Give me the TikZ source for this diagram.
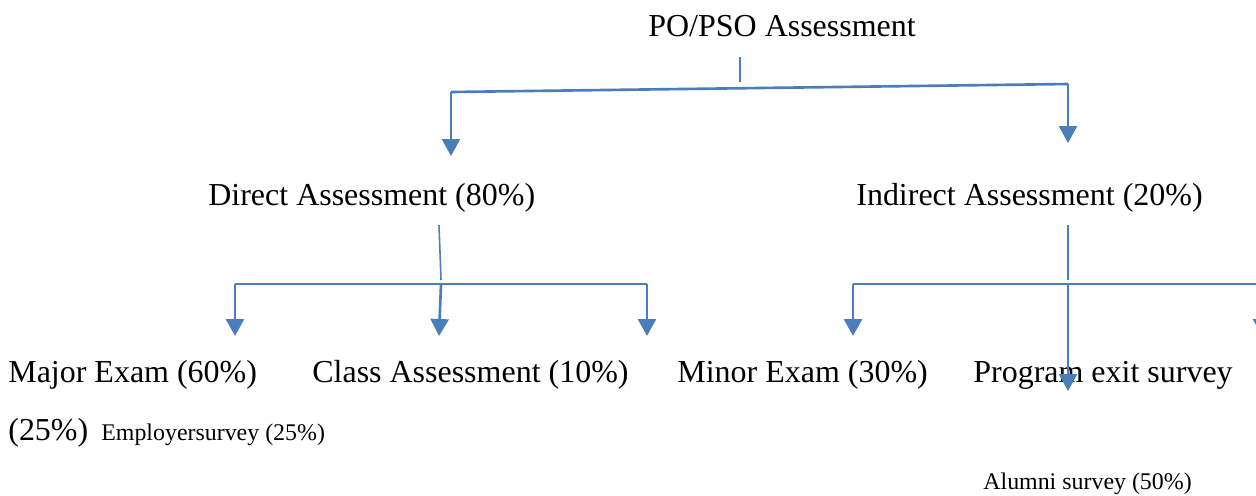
\documentclass[tikz,border=0pt]{standalone}
\usepackage{fontspec}
\setmainfont{Liberation Serif}
\usetikzlibrary{arrows.meta}
\definecolor{wordblue}{HTML}{4A7EBB}

\begin{document}
\begin{tikzpicture}[x=0.02cm,y=-0.02cm,
  big/.style={inner sep=0pt,anchor=base west,font=\fontsize{18.2}{22}\selectfont},
  small/.style={inner sep=0pt,anchor=base west,font=\fontsize{13.6}{16}\selectfont},
  stem/.style={draw=wordblue,line width=0.9pt},
  link/.style={draw=wordblue,line width=1.5pt},
  arr/.style={link,-{Triangle[width=0.36cm,length=0.34cm]}}]
\useasboundingbox (0,0) rectangle (1256,495);
\clip (0,0) rectangle (1256,495);

% texts
\node[big] (po) at (648,36) {PO/PSO Assessment};
\node[big] (direct) at (208,205) {Direct Assessment (80\%)};
\node[big] (indirect) at (856,205) {Indirect Assessment (20\%)};
\node[big] (major) at (8,382) {Major Exam (60\%)};
\node[big] (class) at (312,382) {Class Assessment (10\%)};
\node[big] (minor) at (677,382) {Minor Exam (30\%)};
\node[big] (exitsurvey) at (973,382) {Program exit survey};
\node[big] (pct25) at (8,440) {(25\%)};
\node[small] (employer) at (101,440) {Employersurvey (25\%)};
\node[small] (alumni) at (983,489) {Alumni survey (50\%)};

% connector points
\coordinate (po-s) at (740,57);
\coordinate (po-e) at (740,82);
\coordinate (dir-top) at (451,92);
\coordinate (ind-top) at (1068,84);
\coordinate (dir-tip) at (451,156);
\coordinate (ind-tip) at (1068,143);

\coordinate (dir-s) at (439,225);
\coordinate (dir-e) at (441,280);
\coordinate (major-top) at (235,284);
\coordinate (class-top) at (441,284);
\coordinate (third-top) at (647,284);
\coordinate (major-tip) at (235,336);
\coordinate (class-tip) at (439,336);
\coordinate (third-tip) at (647,336);

\coordinate (ind-s) at (1068,225);
\coordinate (ind-e) at (1068,280);
\coordinate (minor-top) at (853,284);
\coordinate (exit-top) at (1068,284);
\coordinate (last-top) at (1262,284);
\coordinate (minor-tip) at (853,336);
\coordinate (exit-tip) at (1068,391);
\coordinate (last-tip) at (1262,336);

% top level
\draw[stem] (po-s) -- (po-e);
\draw[link] (dir-top) -- (ind-top);
\draw[arr] (dir-top) -- (dir-tip);
\draw[arr] (ind-top) -- (ind-tip);

% direct branch
\draw[stem] (dir-s) -- (dir-e);
\draw[link] (major-top) -- (third-top);
\draw[arr] (major-top) -- (major-tip);
\draw[arr] (class-top) -- (class-tip);
\draw[arr] (third-top) -- (third-tip);

% indirect branch
\draw[stem] (ind-s) -- (ind-e);
\draw[link] (minor-top) -- (last-top);
\draw[arr] (minor-top) -- (minor-tip);
\draw[arr] (exit-top) -- (exit-tip);
\draw[arr] (last-top) -- (last-tip);
\end{tikzpicture}
\end{document}
